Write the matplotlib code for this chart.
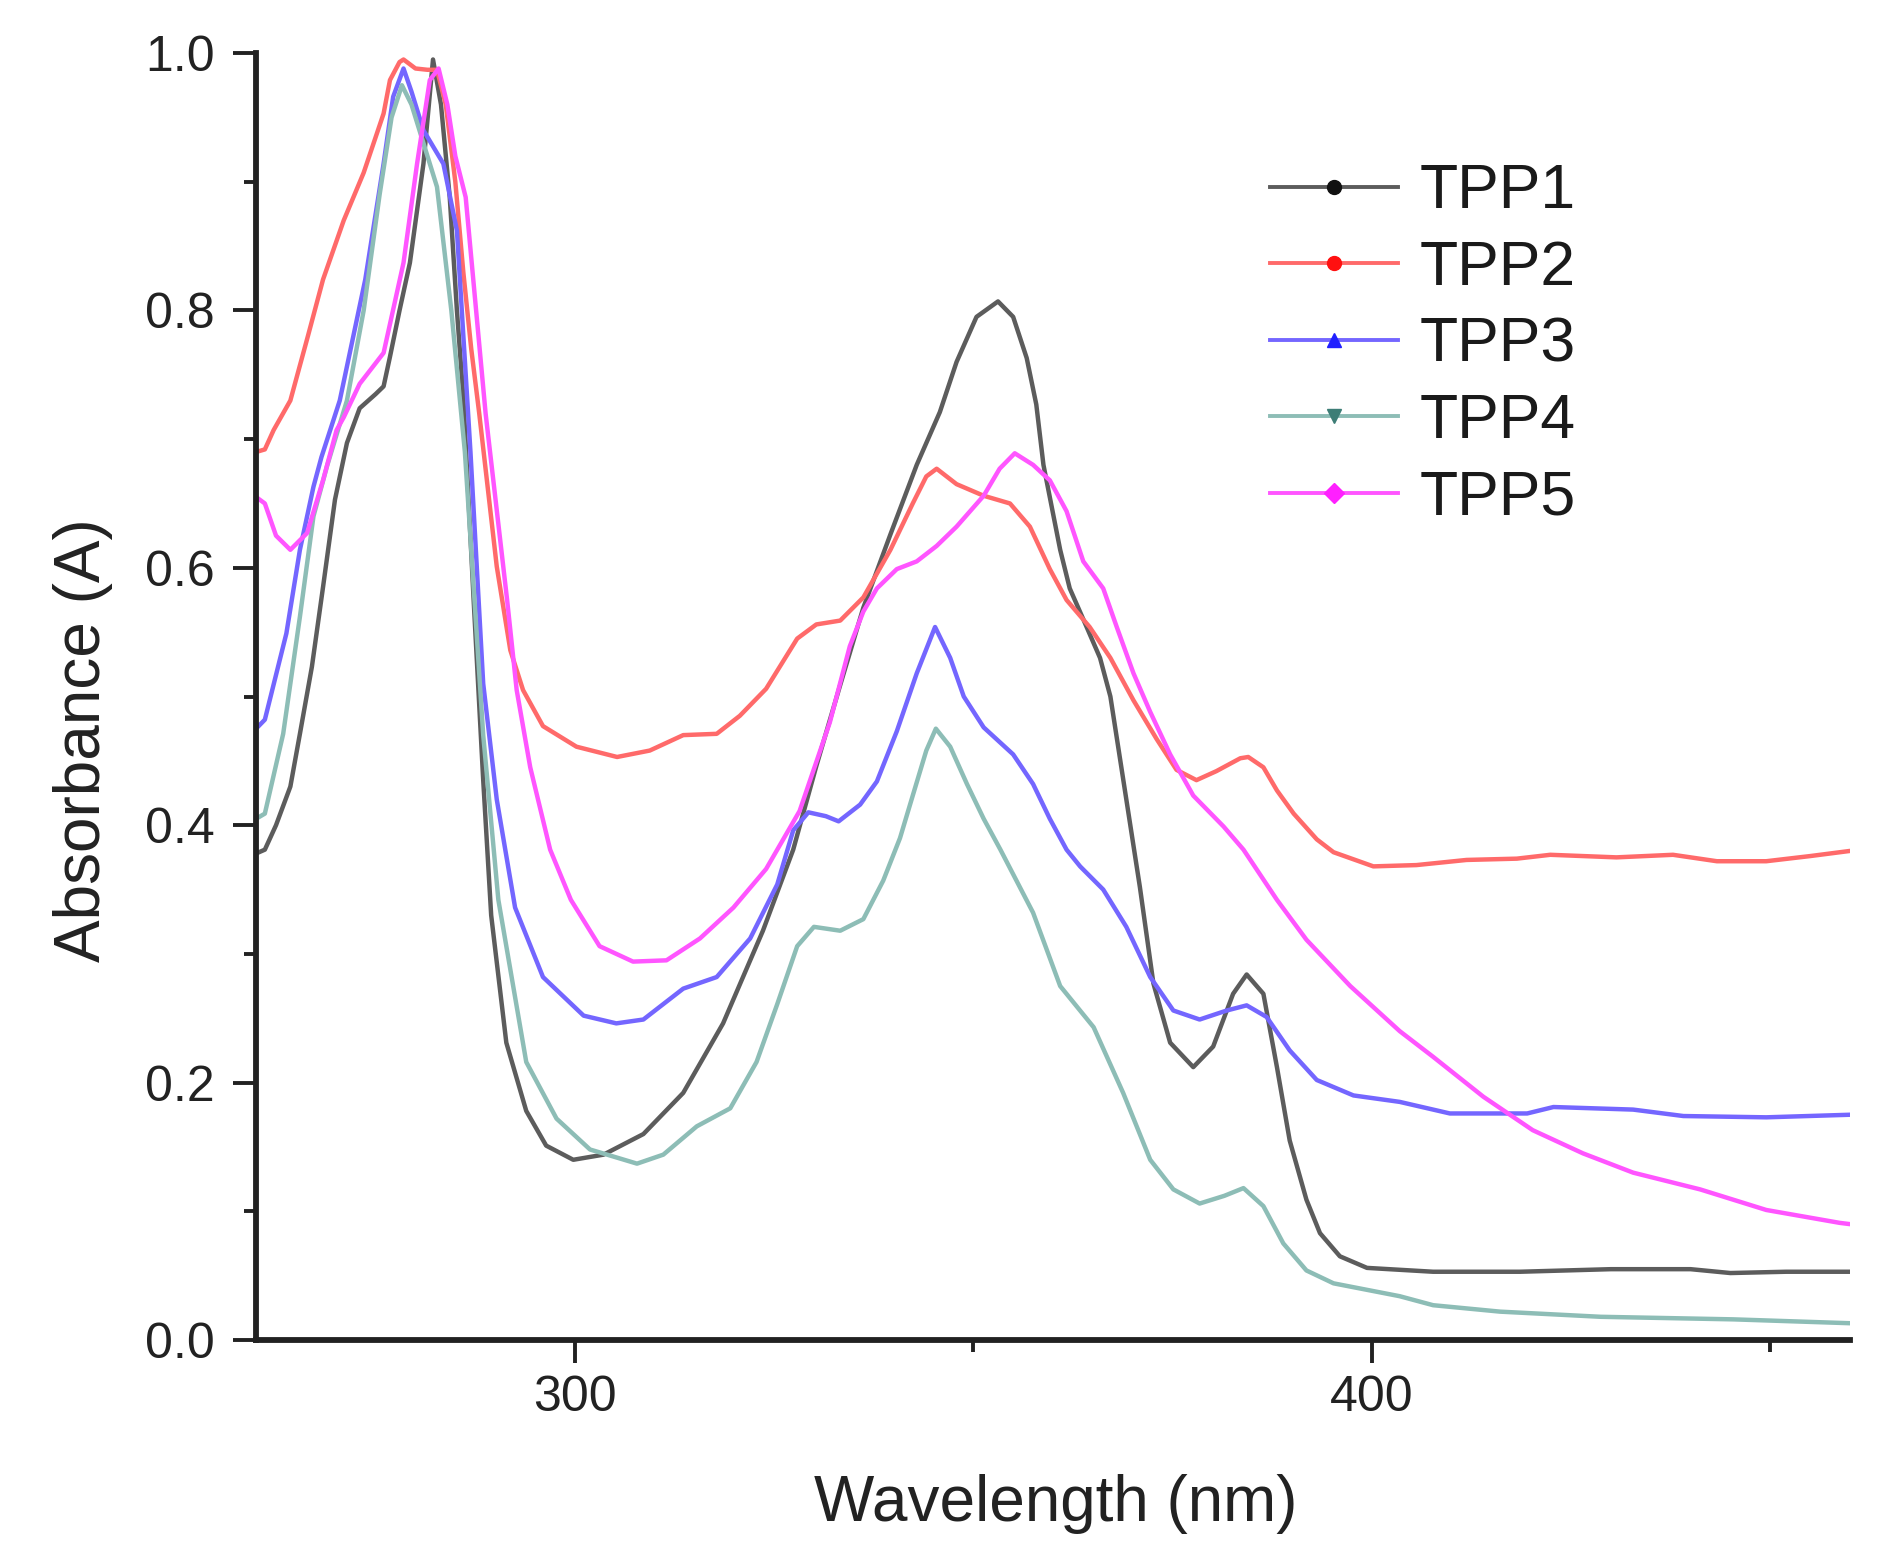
import matplotlib
matplotlib.use("Agg")
import matplotlib.pyplot as plt
from matplotlib.lines import Line2D
from matplotlib.ticker import MultipleLocator, FixedLocator

plt.rcParams['font.family'] = ['Liberation Sans', 'DejaVu Sans']

labels = ["TPP1", "TPP2", "TPP3", "TPP4", "TPP5"]

wl_tpp1 = [260.0, 261.1, 262.5, 264.3, 265.5, 267.0, 268.4, 269.9, 271.4, 273.0, 275.0, 276.0, 276.8, 278.0,
           279.3, 281.0, 282.2, 283.2, 284.3, 285.2, 286.0, 287.3, 288.5, 289.5, 291.4, 293.9, 296.4, 299.8,
           303.6, 308.6, 313.6, 318.6, 323.6, 327.4, 330.3, 333.3, 336.2, 339.6, 342.9, 345.8, 347.9, 350.4,
           353.1, 355.0, 356.7, 357.9, 358.8, 360.9, 362.1, 363.8, 365.9, 367.2, 369.2, 370.9, 372.6, 374.7,
           377.6, 380.1, 382.6, 384.3, 386.4, 388.1, 389.7, 391.8, 393.5, 396.0, 399.4, 407.7, 418.6, 430.0,
           440.0, 445.0, 452.0, 460.0]
a_tpp1 = [0.378, 0.381, 0.400, 0.430, 0.471, 0.523, 0.585, 0.653, 0.697, 0.724, 0.735, 0.741, 0.764, 0.800,
          0.837, 0.914, 0.995, 0.960, 0.888, 0.800, 0.733, 0.575, 0.435, 0.330, 0.231, 0.178, 0.151, 0.140,
          0.144, 0.160, 0.192, 0.246, 0.318, 0.381, 0.446, 0.509, 0.569, 0.626, 0.680, 0.721, 0.760, 0.795,
          0.807, 0.795, 0.763, 0.727, 0.680, 0.614, 0.584, 0.560, 0.530, 0.500, 0.420, 0.352, 0.277, 0.231,
          0.212, 0.228, 0.269, 0.284, 0.269, 0.212, 0.155, 0.109, 0.083, 0.065, 0.056, 0.053, 0.053, 0.055,
          0.055, 0.052, 0.053, 0.053]

wl_tpp2 = [260.0, 261.1, 262.2, 264.3, 266.5, 268.4, 271.0, 273.5, 276.0, 276.8, 278.0, 278.5, 280.0, 281.5,
           282.7, 283.8, 285.0, 286.0, 287.0, 288.0, 290.2, 291.9, 293.5, 296.0, 300.2, 305.3, 309.4, 313.6,
           317.8, 320.7, 324.0, 327.9, 330.3, 333.3, 336.2, 339.6, 342.4, 344.1, 345.4, 347.9, 351.3, 354.6,
           357.1, 359.6, 361.7, 364.6, 367.2, 370.1, 373.0, 375.5, 378.0, 380.5, 383.5, 384.5, 386.4, 388.1,
           390.2, 393.1, 395.2, 400.2, 405.6, 411.9, 418.2, 422.4, 430.7, 437.8, 443.3, 449.5, 455.0, 460.0]
a_tpp2 = [0.690, 0.692, 0.707, 0.730, 0.780, 0.824, 0.870, 0.907, 0.953, 0.979, 0.993, 0.995, 0.988, 0.987,
          0.987, 0.960, 0.900, 0.830, 0.770, 0.720, 0.601, 0.536, 0.505, 0.477, 0.461, 0.453, 0.458, 0.470,
          0.471, 0.485, 0.506, 0.545, 0.556, 0.559, 0.577, 0.614, 0.650, 0.671, 0.677, 0.665, 0.656, 0.650,
          0.632, 0.599, 0.575, 0.554, 0.530, 0.497, 0.467, 0.443, 0.435, 0.442, 0.452, 0.453, 0.445, 0.427,
          0.409, 0.389, 0.379, 0.368, 0.369, 0.373, 0.374, 0.377, 0.375, 0.377, 0.372, 0.372, 0.376, 0.380]

wl_tpp3 = [260.0, 261.1, 263.8, 265.5, 267.2, 268.2, 269.3, 270.5, 273.7, 276.0, 277.2, 278.5, 279.5, 281.0,
           283.5, 285.2, 286.9, 288.5, 290.2, 292.5, 296.0, 301.1, 305.2, 308.6, 313.6, 317.8, 322.0, 325.4,
           327.4, 329.3, 331.5, 333.1, 335.8, 337.9, 340.4, 342.9, 345.2, 347.1, 348.8, 351.3, 355.0, 357.5,
           359.6, 361.7, 363.4, 366.3, 369.2, 372.2, 375.1, 378.4, 381.8, 384.3, 386.8, 389.7, 393.1, 397.7,
           403.5, 409.8, 416.1, 419.5, 422.8, 432.8, 439.1, 449.5, 460.0]
a_tpp3 = [0.475, 0.482, 0.549, 0.614, 0.663, 0.686, 0.707, 0.730, 0.824, 0.914, 0.966, 0.988, 0.970, 0.940,
          0.914, 0.862, 0.690, 0.510, 0.420, 0.336, 0.282, 0.252, 0.246, 0.249, 0.273, 0.282, 0.312, 0.354,
          0.396, 0.410, 0.407, 0.403, 0.416, 0.434, 0.473, 0.518, 0.554, 0.530, 0.500, 0.476, 0.455, 0.432,
          0.405, 0.381, 0.368, 0.350, 0.321, 0.282, 0.256, 0.249, 0.256, 0.260, 0.251, 0.225, 0.202, 0.190,
          0.185, 0.176, 0.176, 0.176, 0.181, 0.179, 0.174, 0.173, 0.175]

wl_tpp4 = [260.0, 261.1, 263.4, 265.5, 267.2, 268.9, 271.4, 273.5, 275.5, 277.0, 278.3, 279.5, 281.0, 282.7,
           284.5, 286.2, 288.5, 290.4, 291.4, 293.9, 297.7, 301.9, 307.8, 311.1, 315.3, 319.5, 322.8, 325.4,
           327.9, 330.0, 333.3, 336.2, 338.7, 340.8, 342.4, 344.1, 345.3, 347.1, 349.2, 351.3, 353.4, 357.5,
           360.9, 365.1, 368.8, 372.2, 375.1, 378.4, 381.5, 383.9, 386.4, 388.9, 391.8, 395.2, 403.5, 407.7,
           416.1, 428.7, 445.4, 460.0]
a_tpp4 = [0.405, 0.409, 0.471, 0.562, 0.640, 0.679, 0.730, 0.800, 0.890, 0.950, 0.975, 0.960, 0.930, 0.896,
          0.800, 0.690, 0.470, 0.342, 0.306, 0.216, 0.172, 0.148, 0.137, 0.144, 0.166, 0.180, 0.216, 0.261,
          0.306, 0.321, 0.318, 0.327, 0.357, 0.390, 0.423, 0.458, 0.475, 0.461, 0.432, 0.405, 0.381, 0.332,
          0.275, 0.243, 0.192, 0.140, 0.117, 0.106, 0.112, 0.118, 0.104, 0.075, 0.054, 0.044, 0.034, 0.027,
          0.022, 0.018, 0.016, 0.013]

wl_tpp5 = [260.0, 261.1, 262.5, 264.3, 266.4, 268.4, 270.1, 271.0, 273.0, 276.0, 278.5, 280.2, 281.8, 282.9,
           284.0, 285.0, 286.3, 288.8, 291.5, 292.7, 294.4, 296.9, 299.5, 303.1, 307.3, 311.5, 315.7, 319.9,
           324.0, 328.2, 332.0, 334.5, 336.2, 337.9, 340.4, 342.9, 345.4, 347.9, 351.3, 353.3, 355.2, 357.5,
           359.6, 361.7, 363.8, 366.3, 368.0, 370.1, 372.2, 374.7, 377.6, 381.4, 383.9, 388.1, 391.8, 397.3,
           403.5, 407.7, 414.0, 420.2, 426.5, 432.8, 441.2, 449.5, 458.7, 460.0]
a_tpp5 = [0.655, 0.650, 0.625, 0.614, 0.627, 0.668, 0.707, 0.717, 0.743, 0.767, 0.837, 0.914, 0.979, 0.988,
          0.960, 0.920, 0.888, 0.720, 0.575, 0.505, 0.445, 0.381, 0.342, 0.306, 0.294, 0.295, 0.312, 0.336,
          0.366, 0.411, 0.480, 0.539, 0.566, 0.584, 0.599, 0.605, 0.617, 0.632, 0.656, 0.677, 0.689, 0.680,
          0.668, 0.644, 0.605, 0.584, 0.554, 0.518, 0.488, 0.455, 0.423, 0.399, 0.381, 0.342, 0.311, 0.275,
          0.240, 0.220, 0.189, 0.163, 0.145, 0.130, 0.117, 0.101, 0.091, 0.090]

x_major = [300, 400]
x_minor = [350, 450]
y_major = [0.0, 0.2, 0.4, 0.6, 0.8, 1.0]
y_major_labels = ["0.0", "0.2", "0.4", "0.6", "0.8", "1.0"]

series = [(wl_tpp1, a_tpp1), (wl_tpp2, a_tpp2), (wl_tpp3, a_tpp3), (wl_tpp4, a_tpp4), (wl_tpp5, a_tpp5)]
line_colors = ["#5c5c5c", "#ff6a6a", "#7466ff", "#8dbdb6", "#ff55ff"]
marker_colors = ["#111111", "#ff1010", "#2020ff", "#3d7d76", "#ff20ff"]
markers = ["o", "o", "^", "v", "D"]

fig = plt.figure(figsize=(19.04, 15.65), dpi=100)
ax = fig.add_axes([0.1345, 0.1438, 0.9716 - 0.1345, 0.9661 - 0.1438])

for (wl, a), c in zip(series, line_colors):
    ax.plot(wl, a, color=c, lw=3.2, solid_joinstyle='round', solid_capstyle='round')

ax.set_xlim(260, 460)
ax.set_ylim(0, 1.0)

ax.xaxis.set_major_locator(FixedLocator(x_major))
ax.xaxis.set_minor_locator(FixedLocator(x_minor))
ax.yaxis.set_major_locator(FixedLocator(y_major))
ax.set_yticklabels(y_major_labels)
ax.yaxis.set_minor_locator(MultipleLocator(0.1))

for s in ["top", "right"]:
    ax.spines[s].set_visible(False)
for s in ["left", "bottom"]:
    ax.spines[s].set_linewidth(4.2)
    ax.spines[s].set_color("#222222")

ax.tick_params(which="major", length=16.5, width=2.8, color="#222222", labelsize=36, labelcolor="#222222")
ax.tick_params(which="minor", length=8.5, width=2.8, color="#222222")
ax.tick_params(axis="y", which="major", pad=13)
ax.tick_params(axis="x", which="major", pad=9)

ax.set_xlabel("Wavelength (nm)", fontsize=46, color="#222222")
ax.set_ylabel("Absorbance (A)", fontsize=46, color="#222222")
ax.xaxis.set_label_coords(0.502, -0.104)
ax.yaxis.set_label_coords(-0.090, 0.466)

handles = [Line2D([], [], color=lc, lw=2.8, marker=m, markersize=10,
                  markerfacecolor=mc, markeredgecolor=mc)
           for lc, mc, m in zip(line_colors, marker_colors, markers)]
leg = ax.legend(handles, labels, loc="upper left", bbox_to_anchor=(0.636, 0.915),
                frameon=False, fontsize=45, handlelength=2.05, handletextpad=0.35,
                labelspacing=0.28, borderpad=0, borderaxespad=0)
for t in leg.get_texts():
    t.set_color("#1a1a1a")

fig.savefig("out.png", dpi=100, facecolor="white")
